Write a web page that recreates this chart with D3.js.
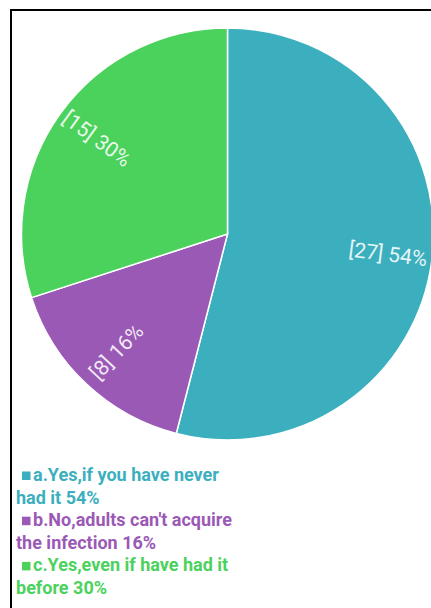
<!DOCTYPE html>
<html>
<head>
<meta charset="utf-8">
<script src="https://cdn.jsdelivr.net/npm/d3@7"></script>
<style>
  html, body { margin: 0; padding: 0; background: #fff; }
  svg { display: block; }
</style>
</head>
<body>
<svg id="chart" width="431" height="608"></svg>
<script>
// Survey answers, counts and percentages
const categories = [
  "a.Yes,if you have never had it",
  "b.No,adults can't acquire the infection",
  "c.Yes,even if have had it before"
];
const counts = [27, 8, 15];
const percents = [54, 16, 30];
const colors = ["#3cafbe", "#9b59b6", "#4bd25d"];
// Legend text, broken into display lines
const legendLines = [
  ["a.Yes,if you have never", "had it 54%"],
  ["b.No,adults can't acquire", "the infection 16%"],
  ["c.Yes,even if have had it", "before 30%"]
];

const svg = d3.select("#chart");
const W = 431, H = 608;

// Frame
svg.append("path")
  .attr("d", `M11,${H} L11,10 L${W},10`)
  .attr("fill", "none")
  .attr("stroke", "#000")
  .attr("stroke-width", 2);

const cx = 227.5, cy = 234, R = 206;

const pie = d3.pie().sort(null).value(d => d)(counts);
const arc = d3.arc().innerRadius(0).outerRadius(R);

const g = svg.append("g").attr("transform", `translate(${cx},${cy})`);

g.selectAll("path.slice")
  .data(pie)
  .join("path")
  .attr("class", "slice")
  .attr("d", arc)
  .attr("fill", (d, i) => colors[i])
  .attr("stroke", "#fff")
  .attr("stroke-width", 1.5);

// Radial labels
const labelR = R * 0.785;
g.selectAll("text.lbl")
  .data(pie)
  .join("text")
  .attr("class", "lbl")
  .attr("transform", d => {
    const mid = (d.startAngle + d.endAngle) / 2;
    const x = Math.sin(mid) * labelR;
    const y = -Math.cos(mid) * labelR;
    let rot = mid * 180 / Math.PI - 90;
    if (rot > 90) rot -= 180;
    return `translate(${x},${y}) rotate(${rot})`;
  })
  .attr("text-anchor", "middle")
  .attr("dominant-baseline", "central")
  .attr("font-family", "Roboto, 'Noto Sans', sans-serif")
  .attr("font-size", 21)
  .attr("fill", "#ffffff")
  .attr("fill-opacity", 0.88)
  .text((d, i) => `[${counts[i]}] ${percents[i]}%`);

// Legend
const lineH = 22.6;
const legend = svg.append("g")
  .attr("font-family", "Roboto, 'Noto Sans', sans-serif")
  .attr("font-weight", "bold")
  .attr("font-size", 18);

let y0 = 481;
legendLines.forEach((lines, i) => {
  legend.append("rect")
    .attr("x", 22)
    .attr("y", y0 - 9.5)
    .attr("width", 8.5)
    .attr("height", 8.5)
    .attr("fill", colors[i]);
  lines.forEach((ln, j) => {
    legend.append("text")
      .attr("x", j === 0 ? 33 : 16)
      .attr("y", y0 + j * lineH)
      .attr("fill", colors[i])
      .text(ln);
  });
  y0 += lines.length * lineH;
});
</script>
</body>
</html>
